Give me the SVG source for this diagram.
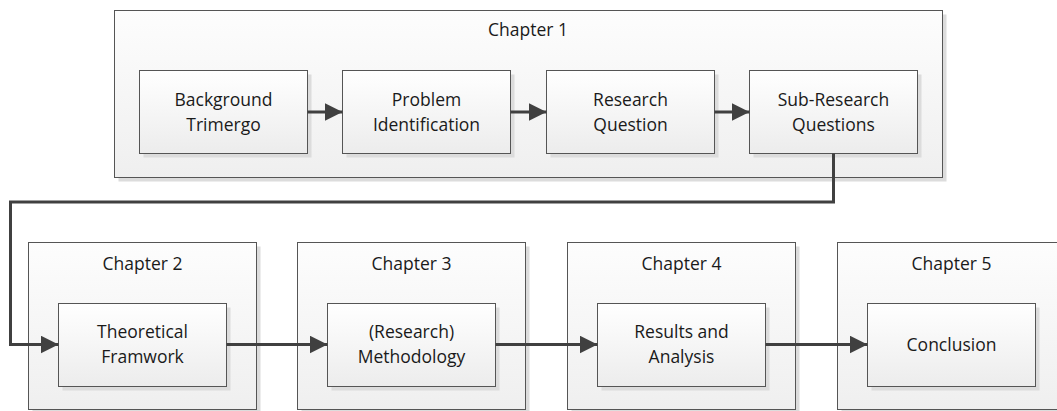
<svg xmlns="http://www.w3.org/2000/svg" width="1057" height="411" viewBox="0 0 1057 411">
  <defs>
    <linearGradient id="gOuter" x1="0" y1="0" x2="0" y2="1">
      <stop offset="0" stop-color="#fdfdfd"/>
      <stop offset="1" stop-color="#efefef"/>
    </linearGradient>
    <linearGradient id="gInner" x1="0" y1="0" x2="0" y2="1">
      <stop offset="0" stop-color="#ffffff"/>
      <stop offset="1" stop-color="#ececec"/>
    </linearGradient>
    <marker id="arrow" markerWidth="18" markerHeight="18" refX="18" refY="9" orient="auto" markerUnits="userSpaceOnUse">
      <path d="M0,0 L18,9 L0,18 Z" fill="#404040"/>
    </marker>
  </defs>
  <style>
    .shadow { fill: #dcdcdc; }
    .outer { fill: url(#gOuter); stroke: #555555; stroke-width: 1; }
    .inner { fill: url(#gInner); stroke: #555555; stroke-width: 1; }
    text { font-family: "Open Sans", "Liberation Sans", sans-serif; font-size: 17.5px; fill: #1a1a1a; text-anchor: middle; }
    .conn { fill: none; stroke: #404040; stroke-width: 3; marker-end: url(#arrow); }
  </style>
  <rect width="1057" height="411" fill="#ffffff"/>

  <!-- Chapter 1 -->
  <g id="chapter1">
    <rect class="shadow" x="118.5" y="14.5" width="828" height="167"/>
    <rect class="outer" x="114.5" y="10.5" width="828" height="167"/>
    <text x="528" y="36">Chapter 1</text>
  </g>
  <g id="background">
    <rect class="shadow" x="143.5" y="74.5" width="168" height="83"/>
    <rect class="inner" x="139.5" y="70.5" width="168" height="83"/>
    <text x="223.5" y="106">Background</text>
    <text x="223.5" y="131">Trimergo</text>
  </g>
  <g id="problem">
    <rect class="shadow" x="346.5" y="74.5" width="168" height="83"/>
    <rect class="inner" x="342.5" y="70.5" width="168" height="83"/>
    <text x="426.5" y="106">Problem</text>
    <text x="426.5" y="131">Identification</text>
  </g>
  <g id="research">
    <rect class="shadow" x="550.5" y="74.5" width="168" height="83"/>
    <rect class="inner" x="546.5" y="70.5" width="168" height="83"/>
    <text x="630.5" y="106">Research</text>
    <text x="630.5" y="131">Question</text>
  </g>
  <g id="subresearch">
    <rect class="shadow" x="753.5" y="74.5" width="168" height="83"/>
    <rect class="inner" x="749.5" y="70.5" width="168" height="83"/>
    <text x="833.5" y="106">Sub-Research</text>
    <text x="833.5" y="131">Questions</text>
  </g>

  <!-- Chapters 2-5 -->
  <g id="chapter2">
    <rect class="shadow" x="32.5" y="246.5" width="228" height="167"/>
    <rect class="outer" x="28.5" y="242.5" width="228" height="167"/>
    <text x="142.5" y="270">Chapter 2</text>
  </g>
  <g id="theoretical">
    <rect class="shadow" x="62.5" y="307.5" width="168" height="83"/>
    <rect class="inner" x="58.5" y="303.5" width="168" height="83"/>
    <text x="142.5" y="338">Theoretical</text>
    <text x="142.5" y="363">Framwork</text>
  </g>
  <g id="chapter3">
    <rect class="shadow" x="301.5" y="246.5" width="228" height="167"/>
    <rect class="outer" x="297.5" y="242.5" width="228" height="167"/>
    <text x="411.5" y="270">Chapter 3</text>
  </g>
  <g id="methodology">
    <rect class="shadow" x="331.5" y="307.5" width="168" height="83"/>
    <rect class="inner" x="327.5" y="303.5" width="168" height="83"/>
    <text x="411.5" y="338">(Research)</text>
    <text x="411.5" y="363">Methodology</text>
  </g>
  <g id="chapter4">
    <rect class="shadow" x="571.5" y="246.5" width="228" height="167"/>
    <rect class="outer" x="567.5" y="242.5" width="228" height="167"/>
    <text x="681.5" y="270">Chapter 4</text>
  </g>
  <g id="results">
    <rect class="shadow" x="601.5" y="307.5" width="168" height="83"/>
    <rect class="inner" x="597.5" y="303.5" width="168" height="83"/>
    <text x="681.5" y="338">Results and</text>
    <text x="681.5" y="363">Analysis</text>
  </g>
  <g id="chapter5">
    <rect class="shadow" x="841.5" y="246.5" width="228" height="167"/>
    <rect class="outer" x="837.5" y="242.5" width="228" height="167"/>
    <text x="951.5" y="270">Chapter 5</text>
  </g>
  <g id="conclusion">
    <rect class="shadow" x="871.5" y="307.5" width="168" height="83"/>
    <rect class="inner" x="867.5" y="303.5" width="168" height="83"/>
    <text x="951.5" y="351">Conclusion</text>
  </g>

  <!-- Connectors -->
  <g id="connectors">
    <line class="conn" x1="307.5" y1="112" x2="342.5" y2="112"/>
    <line class="conn" x1="510.5" y1="112" x2="546.5" y2="112"/>
    <line class="conn" x1="714.5" y1="112" x2="749.5" y2="112"/>
    <polyline class="conn" points="833.5,153.5 833.5,202 10.5,202 10.5,344.5 58.5,344.5"/>
    <line class="conn" x1="226.5" y1="344.5" x2="327.5" y2="344.5"/>
    <line class="conn" x1="495.5" y1="344.5" x2="597.5" y2="344.5"/>
    <line class="conn" x1="765.5" y1="344.5" x2="867.5" y2="344.5"/>
  </g>
</svg>
